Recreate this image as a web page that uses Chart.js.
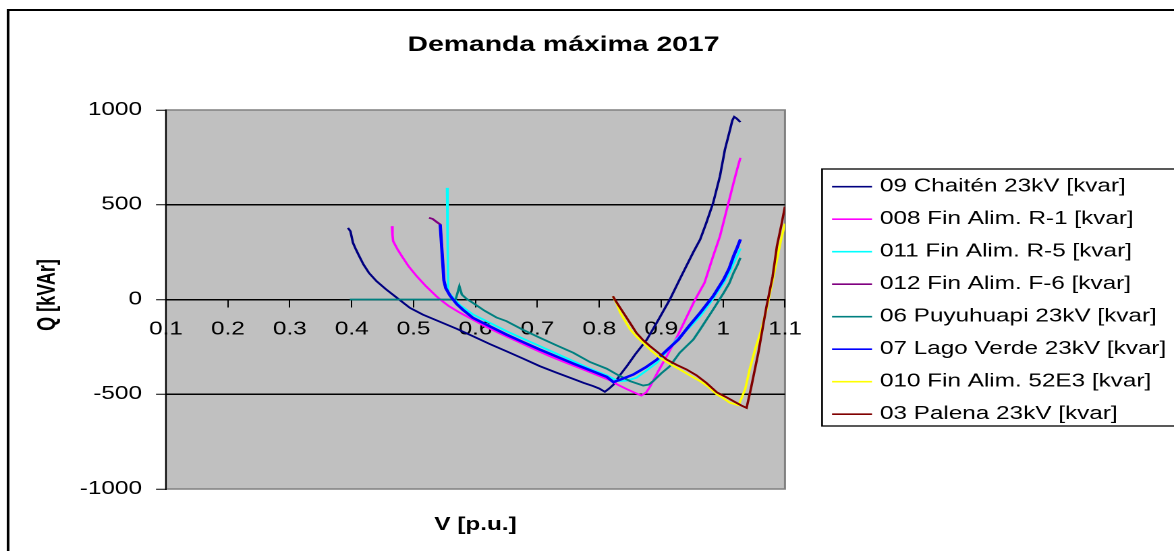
<!DOCTYPE html>
<html>
<head>
<meta charset="utf-8">
<title>Demanda máxima 2017</title>
<script src="https://cdn.jsdelivr.net/npm/chart.js@4.4.0/dist/chart.umd.min.js"></script>
<style>
    html, body { margin: 0; padding: 0; background: #fff; overflow: hidden; }
    /* the original picture is stretched sideways, so draw narrow and stretch */
    #wrap { width: 870px; height: 551px; transform: scaleX(1.3494); transform-origin: 0 0; }
</style>
</head>
<body>
<div id="wrap"><canvas id="chart" width="870" height="551"></canvas></div>
<script>
// Tick values and labels
var xTicks = [0.1, 0.2, 0.3, 0.4, 0.5, 0.6, 0.7, 0.8, 0.9, 1.0, 1.1];
var xTickLabels = ['0.1', '0.2', '0.3', '0.4', '0.5', '0.6', '0.7', '0.8', '0.9', '1', '1.1'];
var yTicks = [-1000, -500, 0, 500, 1000];
var yTickLabels = ['-1000', '-500', '0', '500', '1000'];

var seriesNames = [
    '09 Chaitén 23kV [kvar]',
    '008 Fin Alim. R-1 [kvar]',
    '011 Fin Alim. R-5 [kvar]',
    '012 Fin Alim. F-6 [kvar]',
    '06 Puyuhuapi 23kV [kvar]',
    '07 Lago Verde 23kV [kvar]',
    '010 Fin Alim. 52E3 [kvar]',
    '03 Palena 23kV [kvar]'
];
var seriesColors = ['#000080', '#ff00ff', '#00ffff', '#800080', '#008080', '#0000ff', '#ffff00', '#800000'];

// V [p.u.] / Q [kvar]
var chaitenV = [0.394, 0.398, 0.402, 0.406, 0.412, 0.419, 0.428, 0.440, 0.455, 0.473, 0.494, 0.515, 0.543, 0.570, 0.596, 0.623, 0.650, 0.677, 0.704, 0.731, 0.758, 0.775, 0.790, 0.800, 0.809, 0.816, 0.823, 0.833, 0.845, 0.858, 0.877, 0.895, 0.914, 0.932, 0.952, 0.963, 0.973, 0.984, 0.995, 1.003, 1.010, 1.015, 1.018, 1.022, 1.028];
var chaitenQ = [378, 360, 300, 270, 230, 185, 140, 97, 55, 9, -44, -80, -118, -155, -194, -235, -273, -312, -352, -386, -419, -440, -457, -470, -487, -470, -449, -401, -350, -290, -211, -110, 0, 120, 250, 317, 405, 510, 651, 791, 880, 945, 964, 955, 936];

var r1V = [0.465, 0.466, 0.467, 0.474, 0.481, 0.492, 0.505, 0.520, 0.537, 0.543, 0.557, 0.575, 0.594, 0.613, 0.640, 0.667, 0.693, 0.720, 0.747, 0.774, 0.796, 0.817, 0.830, 0.844, 0.856, 0.868, 0.876, 0.882, 0.895, 0.909, 0.925, 0.938, 0.955, 0.970, 0.984, 0.995, 1.006, 1.017, 1.023, 1.028];
var r1Q = [387, 340, 308, 265, 229, 175, 123, 70, 17, 0, -35, -70, -103, -137, -180, -220, -260, -299, -335, -369, -398, -426, -450, -472, -490, -507, -490, -460, -380, -299, -202, -114, 0, 88, 229, 334, 475, 616, 690, 748];

var r5V = [0.554, 0.555, 0.556, 0.564, 0.575, 0.596, 0.623, 0.650, 0.677, 0.704, 0.731, 0.758, 0.785, 0.812, 0.825, 0.833, 0.845, 0.860, 0.875, 0.893, 0.910, 0.925, 0.945, 0.963, 0.979, 1.001, 1.010, 1.017, 1.023, 1.028];
var r5Q = [589, 300, 40, 9, -30, -79, -123, -167, -207, -246, -286, -325, -365, -400, -422, -431, -428, -413, -378, -334, -270, -211, -150, -88, -18, 88, 140, 193, 232, 269];

var f6V = [0.525, 0.531, 0.537, 0.543, 0.546, 0.549, 0.552, 0.559, 0.570, 0.580, 0.596, 0.623, 0.650, 0.677, 0.704, 0.731, 0.758, 0.785, 0.812, 0.823, 0.838, 0.855, 0.875, 0.893, 0.910, 0.928, 0.945, 0.963, 0.984, 1.001, 1.010, 1.017, 1.023, 1.028];
var f6Q = [431, 425, 410, 396, 250, 100, 60, 20, -25, -55, -97, -141, -185, -225, -264, -301, -338, -373, -408, -436, -418, -396, -358, -317, -265, -211, -140, -70, 18, 106, 165, 229, 275, 317];

var puyuV = [0.397, 0.450, 0.500, 0.550, 0.568, 0.574, 0.578, 0.585, 0.596, 0.615, 0.634, 0.650, 0.677, 0.704, 0.731, 0.758, 0.785, 0.812, 0.831, 0.850, 0.871, 0.880, 0.887, 0.900, 0.914, 0.930, 0.952, 0.963, 0.984, 1.001, 1.010, 1.017, 1.023, 1.028];
var puyuQ = [0, 0, 0, 0, 0, 70, 26, 5, -18, -60, -95, -114, -160, -202, -242, -281, -330, -365, -400, -431, -454, -449, -431, -390, -352, -281, -211, -158, -53, 35, 85, 141, 180, 220];

var lagoV = [0.543, 0.546, 0.549, 0.552, 0.559, 0.570, 0.580, 0.596, 0.623, 0.650, 0.677, 0.704, 0.731, 0.758, 0.785, 0.812, 0.823, 0.838, 0.855, 0.875, 0.893, 0.910, 0.928, 0.945, 0.963, 0.984, 1.001, 1.010, 1.017, 1.023, 1.028];
var lagoQ = [396, 250, 100, 60, 20, -25, -55, -97, -141, -185, -225, -264, -301, -338, -373, -408, -436, -418, -396, -358, -317, -265, -211, -140, -70, 18, 106, 165, 229, 275, 317];

var e3V = [0.822, 0.828, 0.834, 0.842, 0.850, 0.860, 0.871, 0.884, 0.898, 0.914, 0.930, 0.946, 0.963, 0.976, 0.990, 1.000, 1.011, 1.025, 1.030, 1.036, 1.043, 1.052, 1.062, 1.070, 1.080, 1.087, 1.094, 1.100];
var e3Q = [17, -20, -70, -115, -158, -195, -229, -270, -308, -340, -369, -400, -431, -460, -501, -520, -545, -558, -520, -470, -369, -260, -160, -53, 100, 211, 320, 400];

var palenaV = [0.822, 0.830, 0.839, 0.850, 0.860, 0.871, 0.882, 0.895, 0.909, 0.925, 0.941, 0.957, 0.973, 0.990, 1.005, 1.017, 1.030, 1.038, 1.045, 1.057, 1.070, 1.080, 1.087, 1.094, 1.100];
var palenaQ = [17, -25, -70, -125, -176, -215, -246, -280, -317, -345, -369, -400, -440, -490, -515, -537, -560, -572, -470, -280, -40, 120, 281, 390, 490];

var seriesV = [chaitenV, r1V, r5V, f6V, puyuV, lagoV, e3V, palenaV];
var seriesQ = [chaitenQ, r1Q, r5Q, f6Q, puyuQ, lagoQ, e3Q, palenaQ];

var FONT = '"Liberation Sans", Arial, sans-serif';

function toPoints(vs, qs) {
    return vs.map(function (v, i) { return { x: v, y: qs[i] }; });
}

var datasets = [];
for (var i = 0; i < seriesNames.length; i++) {
    datasets.push({
        label: seriesNames[i],
        data: toPoints(seriesV[i], seriesQ[i]),
        borderColor: seriesColors[i],
        backgroundColor: seriesColors[i],
        borderWidth: i === 5 ? 2.4 : 1.8,
        showLine: true,
        pointRadius: 0,
        tension: 0,
        order: seriesNames.length - i  // later series on top, like Excel
    });
}

// background, frame, titles and the boxed legend
var decor = {
    id: 'decor',
    beforeDraw: function (chart) {
        var ctx = chart.ctx, a = chart.chartArea;
        ctx.save();
        ctx.fillStyle = '#fff';
        ctx.fillRect(0, 0, chart.width, chart.height);
        ctx.strokeStyle = '#000';
        ctx.lineWidth = 2;
        ctx.beginPath();
        ctx.moveTo(6, 600);
        ctx.lineTo(6, 10);
        ctx.lineTo(900, 10);
        ctx.stroke();
        ctx.fillStyle = '#c0c0c0';
        ctx.fillRect(a.left, a.top, a.right - a.left, a.bottom - a.top);
        ctx.strokeStyle = '#808080';
        ctx.lineWidth = 1.5;
        ctx.strokeRect(a.left, a.top, a.right - a.left, a.bottom - a.top);
        ctx.restore();
    },
    afterDraw: function (chart) {
        var ctx = chart.ctx, a = chart.chartArea;
        ctx.save();
        ctx.fillStyle = '#000';
        ctx.textAlign = 'center';
        ctx.textBaseline = 'middle';
        ctx.font = 'bold 21px ' + FONT;
        ctx.fillText('Demanda máxima 2017', 417.6, 45);
        ctx.font = 'bold 18px ' + FONT;
        ctx.fillText('V [p.u.]', (a.left + a.right) / 2, 525);
        ctx.save();
        ctx.translate(35.5, 295);
        ctx.rotate(-Math.PI / 2);
        ctx.fillText('Q [kVAr]', 0, 0);
        ctx.restore();

        // legend box
        ctx.strokeStyle = '#000';
        ctx.lineWidth = 1.3;
        ctx.strokeRect(609.2, 169, 300, 257);
        ctx.textAlign = 'left';
        ctx.font = '18px ' + FONT;
        chart.data.datasets.forEach(function (ds, k) {
            var y = 186.7 + k * 32.5;
            ctx.strokeStyle = ds.borderColor;
            ctx.lineWidth = 1.6;
            ctx.beginPath();
            ctx.moveTo(616.6, y);
            ctx.lineTo(646.2, y);
            ctx.stroke();
            ctx.fillStyle = '#000';
            ctx.fillText(ds.label, 652.1, y);
        });
        ctx.restore();
    }
};

var chart = new Chart(document.getElementById('chart'), {
    type: 'scatter',
    data: { datasets: datasets },
    options: {
        responsive: false,
        animation: false,
        devicePixelRatio: 2,
        layout: { padding: { left: 0, top: 110, right: 288.3, bottom: 62 } },
        plugins: {
            legend: { display: false },
            title: { display: false },
            tooltip: { enabled: false }
        },
        scales: {
            x: {
                type: 'linear',
                position: { y: 0 },
                min: 0.1,
                max: 1.1,
                afterBuildTicks: function (s) { s.ticks = xTicks.map(function (v) { return { value: v }; }); },
                afterFit: function (s) { s.paddingLeft = 0; s.paddingRight = 0; },
                ticks: {
                    autoSkip: false,
                    maxRotation: 0,
                    padding: 12,
                    color: '#000',
                    font: { family: FONT, size: 18 },
                    callback: function (v, i) { return xTickLabels[i]; }
                },
                grid: { drawOnChartArea: false, drawTicks: true, tickLength: 7, tickColor: '#000', tickWidth: 1 },
                border: { display: true, color: '#000', width: 1.5 }
            },
            y: {
                type: 'linear',
                position: 'left',
                min: -1000,
                max: 1000,
                afterBuildTicks: function (s) { s.ticks = yTicks.map(function (v) { return { value: v }; }); },
                afterFit: function (s) { s.width = 123; s.paddingTop = 0; s.paddingBottom = 0; },
                ticks: {
                    padding: 10.4,
                    color: '#000',
                    font: { family: FONT, size: 18 },
                    callback: function (v, i) { return yTickLabels[i]; }
                },
                grid: {
                    color: function (c) { return c.tick && Math.abs(c.tick.value) === 1000 ? 'rgba(0,0,0,0)' : '#000'; },
                    lineWidth: 1.5,
                    tickLength: 7.4,
                    tickColor: '#000',
                    tickWidth: 1
                },
                border: { display: true, color: '#000', width: 1 }
            }
        }
    },
    plugins: [decor]
});
</script>
</body>
</html>
